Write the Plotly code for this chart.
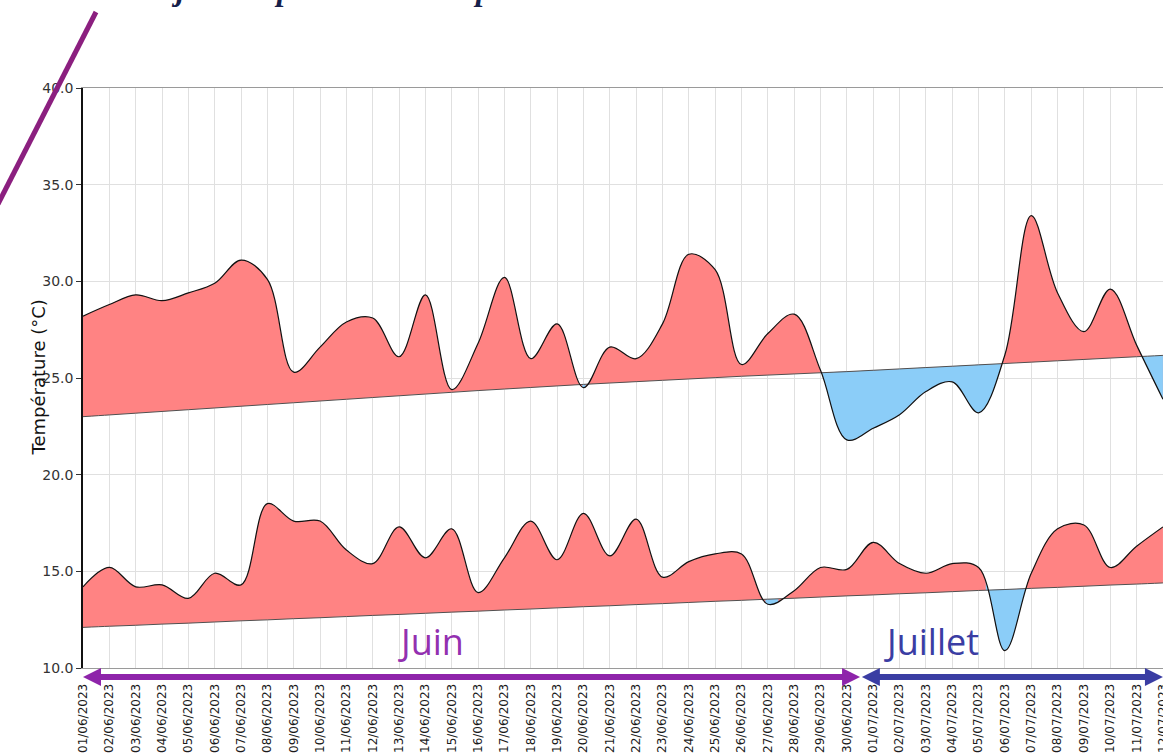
import plotly.graph_objects as go

# ---------------- data ----------------
dates = [
    "01/06/2023", "02/06/2023", "03/06/2023", "04/06/2023", "05/06/2023", "06/06/2023",
    "07/06/2023", "08/06/2023", "09/06/2023", "10/06/2023", "11/06/2023", "12/06/2023",
    "13/06/2023", "14/06/2023", "15/06/2023", "16/06/2023", "17/06/2023", "18/06/2023",
    "19/06/2023", "20/06/2023", "21/06/2023", "22/06/2023", "23/06/2023", "24/06/2023",
    "25/06/2023", "26/06/2023", "27/06/2023", "28/06/2023", "29/06/2023", "30/06/2023",
    "01/07/2023", "02/07/2023", "03/07/2023", "04/07/2023", "05/07/2023", "06/07/2023",
    "07/07/2023", "08/07/2023", "09/07/2023", "10/07/2023", "11/07/2023", "12/07/2023",
]

tmax = [28.2, 28.8, 29.3, 29.0, 29.4, 29.9, 31.1, 30.1, 25.3, 26.6, 27.9, 28.1,
        26.1, 29.3, 24.4, 26.8, 30.2, 26.0, 27.8, 24.5, 26.6, 26.0, 27.8, 31.4,
        30.6, 25.7, 27.3, 28.3, 25.4, 21.8, 22.4, 23.1, 24.3, 24.8, 23.2, 26.2,
        33.4, 29.4, 27.4, 29.6, 26.7, 23.9]

tmax_normal = [23.00, 23.09, 23.18, 23.27, 23.36, 23.45, 23.54, 23.63, 23.72, 23.81,
               23.90, 23.99, 24.08, 24.17, 24.26, 24.35, 24.43, 24.51, 24.59, 24.67,
               24.74, 24.81, 24.88, 24.95, 25.02, 25.09, 25.15, 25.21, 25.27, 25.33,
               25.40, 25.47, 25.54, 25.61, 25.68, 25.75, 25.82, 25.89, 25.96, 26.03,
               26.10, 26.17]

tmin = [14.2, 15.2, 14.2, 14.3, 13.6, 14.9, 14.3, 18.5, 17.6, 17.6, 16.1, 15.4,
        17.3, 15.7, 17.2, 13.9, 15.7, 17.6, 15.6, 18.0, 15.8, 17.7, 14.7, 15.5,
        15.9, 15.9, 13.3, 14.0, 15.2, 15.1, 16.5, 15.4, 14.9, 15.4, 15.2, 10.9,
        14.9, 17.2, 17.4, 15.2, 16.3, 17.3]

tmin_normal = [12.10, 12.16, 12.21, 12.27, 12.32, 12.38, 12.44, 12.49, 12.55, 12.60,
               12.66, 12.72, 12.77, 12.83, 12.89, 12.94, 13.00, 13.05, 13.11, 13.17,
               13.22, 13.28, 13.33, 13.39, 13.45, 13.50, 13.56, 13.61, 13.67, 13.73,
               13.78, 13.84, 13.89, 13.95, 14.01, 14.06, 14.12, 14.17, 14.23, 14.29,
               14.34, 14.40]

y_ticks = [10, 15, 20, 25, 30, 35, 40]
y_title = "Température (°C)"
month_labels = ["Juin", "Juillet"]

# ---------------- style ----------------
W, H = 1163, 753
ML, MR, MT, MB = 83, 0, 88, 85
PW, PH = W - ML - MR, H - MT - MB
RED = "#FF8383"
BLUE = "#8BCDF8"
GRID = "#e0e0e0"
PURPLE = "#8E24AA"
NAVY = "#3A3DA3"
MAGENTA = "#8B1F7F"
FONT = "DejaVu Sans"

x = list(range(len(dates)))
xmax = x[-1]
XEND = xmax + 0.002          # tiny slack at the right end
YR = [y_ticks[0], y_ticks[-1]]


def px_x(px):
    return (px - ML) / PW


def px_y(py):
    return (H - MB - py) / PH


def line_style(width=0, color="black"):
    return dict(width=width, color=color, shape="spline", simplify=False)


def below_segments(vals, norm):
    d = [v - n for v, n in zip(vals, norm)]
    segs, start = [], None
    for i in range(len(d)):
        if d[i] < 0 and start is None:
            start = 0.0 if i == 0 else (i - 1) + d[i - 1] / (d[i - 1] - d[i])
        if d[i] < 0 and (i == len(d) - 1 or d[i + 1] >= 0):
            end = XEND if i == len(d) - 1 else i + d[i] / (d[i] - d[i + 1])
            segs.append((start, end))
            start = None
    return segs


fig = go.Figure()
series = [(tmax, tmax_normal), (tmin, tmin_normal)]

# red area between actual and normal (main subplot)
for actual, normal in series:
    fig.add_trace(go.Scatter(x=x, y=normal, mode="lines", line=line_style(),
                             hoverinfo="skip", showlegend=False))
    fig.add_trace(go.Scatter(x=x, y=actual, mode="lines", line=line_style(),
                             fill="tonexty", fillcolor=RED,
                             hoverinfo="skip", showlegend=False))

# blue areas: same curves, clipped to the below-normal stretches
axis_layout = {}
n = 1
for actual, normal in series:
    for s, e in below_segments(actual, normal):
        n += 1
        axis_layout[f"xaxis{n}"] = dict(domain=[s / XEND, min(e / XEND, 1.0)], range=[s, e],
                                        visible=False, anchor=f"y{n}", fixedrange=True,
                                        automargin=False)
        axis_layout[f"yaxis{n}"] = dict(domain=[0, 1], range=YR, visible=False,
                                        anchor=f"x{n}", fixedrange=True, automargin=False)
        fig.add_trace(go.Scatter(x=x, y=normal, mode="lines", line=line_style(),
                                 xaxis=f"x{n}", yaxis=f"y{n}",
                                 hoverinfo="skip", showlegend=False))
        fig.add_trace(go.Scatter(x=x, y=actual, mode="lines", line=line_style(),
                                 fill="tonexty", fillcolor=BLUE,
                                 xaxis=f"x{n}", yaxis=f"y{n}",
                                 hoverinfo="skip", showlegend=False))

assert n < 9
TOP = 9
axis_layout[f"xaxis{TOP}"] = dict(domain=[0, 1], range=[0, XEND], visible=False,
                                  anchor=f"y{TOP}", fixedrange=True, automargin=False)
axis_layout[f"yaxis{TOP}"] = dict(domain=[0, 1], range=YR, visible=False,
                                  anchor=f"x{TOP}", fixedrange=True, automargin=False)

# outlines on top
for actual, normal in series:
    fig.add_trace(go.Scatter(x=x, y=normal, mode="lines", line=line_style(1, "#505050"),
                             xaxis=f"x{TOP}", yaxis=f"y{TOP}",
                             hoverinfo="skip", showlegend=False))
    fig.add_trace(go.Scatter(x=x, y=actual, mode="lines", line=line_style(1.2, "#111111"),
                             xaxis=f"x{TOP}", yaxis=f"y{TOP}",
                             hoverinfo="skip", showlegend=False))

# ---------------- decorations ----------------
ay = px_y(677)
hh = 9 / PH
hl = 18 / (PW / XEND)
split_l, split_r = 29.5, 29.57
shapes = [
    # Juin arrow
    dict(type="line", xref="x", yref="paper", x0=0.4, x1=split_l - 0.4, y0=ay, y1=ay,
         line=dict(color=PURPLE, width=6)),
    dict(type="path", xref="x", yref="paper", fillcolor=PURPLE, line=dict(width=0),
         path=f"M 0,{ay} L {hl},{ay + hh} L {hl},{ay - hh} Z"),
    dict(type="path", xref="x", yref="paper", fillcolor=PURPLE, line=dict(width=0),
         path=f"M {split_l},{ay} L {split_l - hl},{ay + hh} L {split_l - hl},{ay - hh} Z"),
    # Juillet arrow
    dict(type="line", xref="x", yref="paper", x0=split_r + 0.4, x1=xmax - 0.4, y0=ay, y1=ay,
         line=dict(color=NAVY, width=6)),
    dict(type="path", xref="x", yref="paper", fillcolor=NAVY, line=dict(width=0),
         path=f"M {split_r},{ay} L {split_r + hl},{ay + hh} L {split_r + hl},{ay - hh} Z"),
    dict(type="path", xref="x", yref="paper", fillcolor=NAVY, line=dict(width=0),
         path=f"M {xmax},{ay} L {xmax - hl},{ay + hh} L {xmax - hl},{ay - hh} Z"),
    # diagonal magenta pointer (top-left)
    dict(type="line", xref="paper", yref="paper", x0=px_x(96), y0=px_y(12),
         x1=px_x(-2), y1=px_y(204), line=dict(color=MAGENTA, width=5)),
]

annotations = [
    dict(text=y_title, xref="paper", yref="paper", x=px_x(25), y=0.5, textangle=-90,
         showarrow=False, font=dict(family=FONT, size=18, color="#111111")),
    dict(text=month_labels[0], xref="x", yref="y", x=13.2, y=11.35, showarrow=False,
         font=dict(family="Open Sans", size=36, color="#9330B0")),
    dict(text=month_labels[1], xref="x", yref="y", x=32.2, y=11.35, showarrow=False,
         font=dict(family="Open Sans", size=36, color=NAVY)),
]
# cropped heading glyphs at the very top of the picture
for ch, px in [("j", 170), ("p", 273), ("p", 482)]:
    annotations.append(dict(text=f"<b><i>{ch}</i></b>", xref="paper", yref="paper",
                            x=px_x(px), y=px_y(8), yanchor="bottom", showarrow=False,
                            borderpad=0,
                            font=dict(family="Liberation Serif", size=32, color="#16204a")))

fig.update_layout(
    width=W, height=H, autosize=False,
    margin=dict(l=ML, r=MR, t=MT, b=MB, pad=0, autoexpand=False),
    paper_bgcolor="white", plot_bgcolor="rgba(0,0,0,0)",
    showlegend=False,
    xaxis=dict(range=[0, XEND], tickmode="array", tickvals=x, ticktext=dates,
               tickangle=-90, showgrid=True, gridcolor=GRID, gridwidth=1,
               showline=True, linecolor="#9a9a9a", linewidth=1, mirror=True,
               ticks="outside", ticklen=10, tickcolor="rgba(0,0,0,0)",
               ticklabeloverflow="allow", automargin=False,
               tickfont=dict(family=FONT, size=12, color="#1a1a1a"),
               zeroline=False, fixedrange=True),
    yaxis=dict(range=YR, tickmode="array", tickvals=y_ticks,
               ticktext=[f"{v:.1f}" for v in y_ticks],
               showgrid=True, gridcolor=GRID, gridwidth=1,
               showline=True, linecolor="#111111", linewidth=1.5, mirror=False,
               ticks="outside", ticklen=5, tickcolor="#333333",
               ticklabeloverflow="allow", automargin=False,
               tickfont=dict(family=FONT, size=14, color="#333333"),
               zeroline=False, fixedrange=True),
    shapes=shapes,
    annotations=annotations,
    **axis_layout,
)

fig.write_html(
    "out.html",
    default_width=f"{W}px",
    default_height=f"{H}px",
    config={"responsive": False, "displayModeBar": False},
    post_script="document.body.style.margin='0';document.body.style.padding='0';"
                "document.body.style.overflow='hidden';",
)
